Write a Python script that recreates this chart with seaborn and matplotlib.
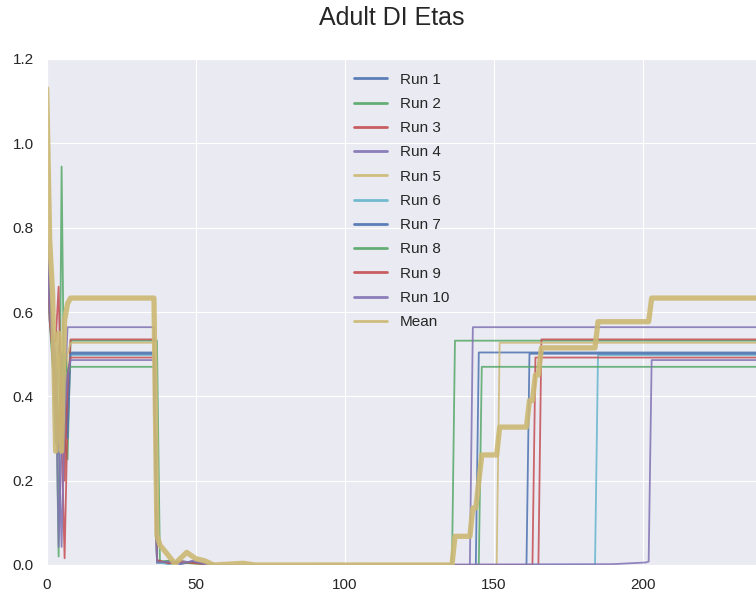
import numpy as np
import pandas as pd
import matplotlib
matplotlib.use("Agg")
import matplotlib.pyplot as plt
import seaborn as sns

# ---------------- data (vertices) ----------------
run_names = ["Run 1", "Run 2", "Run 3", "Run 4", "Run 5",
             "Run 6", "Run 7", "Run 8", "Run 9", "Run 10"]

run1_x = [0, 1, 2, 3, 4, 5, 6, 7, 8, 36, 37, 41, 45, 49, 53, 57, 144, 145, 250]
run1_y = [0.76, 0.60, 0.50, 0.29, 0.52, 0.50, 0.27, 0.40, 0.504, 0.504, 0.008, 0.004, 0.010, 0.005, 0.002, 0.0, 0.0, 0.504, 0.504]

run2_x = [0, 1, 2, 3, 4, 5, 6, 7, 8, 37, 38, 41, 45, 49, 53, 57, 136, 137, 250]
run2_y = [0.79, 0.60, 0.52, 0.48, 0.02, 0.945, 0.30, 0.25, 0.532, 0.532, 0.006, 0.010, 0.004, 0.008, 0.002, 0.0, 0.0, 0.532, 0.532]

run3_x = [0, 1, 2, 3, 4, 5, 6, 7, 8, 36, 37, 41, 45, 49, 53, 57, 165, 166, 250]
run3_y = [0.77, 0.60, 0.53, 0.53, 0.66, 0.30, 0.016, 0.35, 0.535, 0.535, 0.010, 0.003, 0.008, 0.006, 0.001, 0.0, 0.0, 0.535, 0.535]

run4_x = [0, 1, 2, 3, 4, 5, 6, 7, 8, 36, 37, 41, 45, 49, 53, 57, 142, 143, 250]
run4_y = [0.80, 0.63, 0.55, 0.50, 0.043, 0.30, 0.40, 0.564, 0.564, 0.564, 0.005, 0.008, 0.002, 0.010, 0.003, 0.0, 0.0, 0.564, 0.564]

run5_x = [0, 1, 2, 3, 4, 5, 6, 7, 8, 36, 37, 41, 45, 49, 53, 57, 151, 152, 250]
run5_y = [0.76, 0.59, 0.51, 0.45, 0.50, 0.40, 0.30, 0.50, 0.527, 0.527, 0.007, 0.004, 0.009, 0.003, 0.002, 0.0, 0.0, 0.527, 0.527]

run6_x = [0, 1, 2, 3, 4, 5, 6, 7, 8, 36, 37, 41, 45, 49, 53, 57, 184, 185, 250]
run6_y = [0.75, 0.58, 0.50, 0.40, 0.35, 0.45, 0.30, 0.45, 0.498, 0.498, 0.006, 0.002, 0.006, 0.008, 0.002, 0.0, 0.0, 0.498, 0.498]

run7_x = [0, 1, 2, 3, 4, 5, 6, 7, 8, 36, 37, 41, 45, 49, 53, 57, 161, 162, 250]
run7_y = [0.77, 0.61, 0.52, 0.45, 0.29, 0.50, 0.45, 0.30, 0.501, 0.501, 0.009, 0.006, 0.003, 0.007, 0.002, 0.0, 0.0, 0.501, 0.501]

run8_x = [0, 1, 2, 3, 4, 5, 6, 7, 8, 36, 37, 41, 45, 49, 53, 57, 145, 146, 250]
run8_y = [0.74, 0.58, 0.47, 0.47, 0.30, 0.45, 0.50, 0.45, 0.47, 0.47, 0.008, 0.010, 0.005, 0.004, 0.002, 0.0, 0.0, 0.47, 0.47]

run9_x = [0, 1, 2, 3, 4, 5, 6, 7, 8, 36, 37, 41, 45, 49, 53, 57, 163, 164, 250]
run9_y = [0.75, 0.58, 0.50, 0.40, 0.28, 0.45, 0.20, 0.45, 0.492, 0.492, 0.012, 0.004, 0.007, 0.005, 0.002, 0.0, 0.0, 0.492, 0.492]

run10_x = [0, 1, 2, 3, 4, 5, 6, 7, 8, 36, 37, 41, 45, 49, 53, 57, 190, 201, 202, 203, 250]
run10_y = [0.78, 0.60, 0.52, 0.45, 0.30, 0.043, 0.35, 0.45, 0.486, 0.486, 0.006, 0.008, 0.004, 0.009, 0.002, 0.0, 0.002, 0.006, 0.008, 0.486, 0.486]

mean_x = [0, 1, 2, 3, 4, 5, 6, 7, 8, 36, 37, 38, 40, 43, 47, 50, 53, 56, 66, 70,
          136, 137, 142, 143, 144, 145, 146, 151, 152, 161, 162, 163, 164, 165,
          166, 184, 185, 202, 203, 250]
mean_y = [1.13, 0.77, 0.64, 0.27, 0.55, 0.27, 0.58, 0.62, 0.633, 0.633, 0.07, 0.047,
          0.03, 0.003, 0.03, 0.015, 0.01, 0.0, 0.004, 0.0,
          0.0, 0.068, 0.068, 0.135, 0.135, 0.198, 0.261, 0.261, 0.327, 0.327,
          0.390, 0.390, 0.451, 0.451, 0.515, 0.515, 0.577, 0.577, 0.633, 0.633]

runs_x = [run1_x, run2_x, run3_x, run4_x, run5_x, run6_x, run7_x, run8_x, run9_x, run10_x]
runs_y = [run1_y, run2_y, run3_y, run4_y, run5_y, run6_y, run7_y, run8_y, run9_y, run10_y]

title_text = "Adult DI Etas"
x_ticks = [0, 50, 100, 150, 200]
y_ticks = [0.0, 0.2, 0.4, 0.6, 0.8, 1.0, 1.2]

# ---------------- style ----------------
sns.set_style("darkgrid")
plt.rcParams['font.family'] = ['Liberation Sans', 'DejaVu Sans']
plt.rcParams['text.color'] = '#262626'
plt.rcParams['xtick.color'] = '#262626'
plt.rcParams['ytick.color'] = '#262626'

palette = sns.color_palette("deep6")

W, H = 756, 599
fig = plt.figure(figsize=(W / 100, H / 100), dpi=100)
ax = fig.add_axes([46.7 / W, 34 / H, 745 / W, 506 / H])

for i, (xs, ys) in enumerate(zip(runs_x, runs_y)):
    df = pd.DataFrame({"x": xs, "y": ys})
    sns.lineplot(data=df, x="x", y="y", ax=ax, color=palette[i % 6],
                 lw=1.3, alpha=0.85, label=run_names[i], sort=False)

dfm = pd.DataFrame({"x": mean_x, "y": mean_y})
sns.lineplot(data=dfm, x="x", y="y", ax=ax, color=palette[4], lw=3.8,
             alpha=0.9, label="Mean", sort=False)

ax.set_xlim(0, 250)
ax.set_ylim(0, 1.2)
ax.set_xticks(x_ticks)
ax.set_yticks(y_ticks)
ax.set_xticklabels([str(t) for t in x_ticks])
ax.set_yticklabels([f"{t:.1f}" for t in y_ticks])
ax.tick_params(labelsize=11, pad=6)
ax.set_xlabel("")
ax.set_ylabel("")

leg = ax.legend(loc="upper left", bbox_to_anchor=(340 / W, 1 - 59 / H),
                bbox_transform=fig.transFigure, frameon=False, fontsize=11,
                handlelength=2.2, labelspacing=0.67, borderaxespad=0.5)
for line in leg.get_lines():
    line.set_linewidth(2.0)
    line.set_alpha(0.9)

fig.text(392 / W, 1 - 25 / H, title_text, ha="center", va="baseline",
         fontsize=18, color="#262626")

fig.savefig("out.png", dpi=100)
